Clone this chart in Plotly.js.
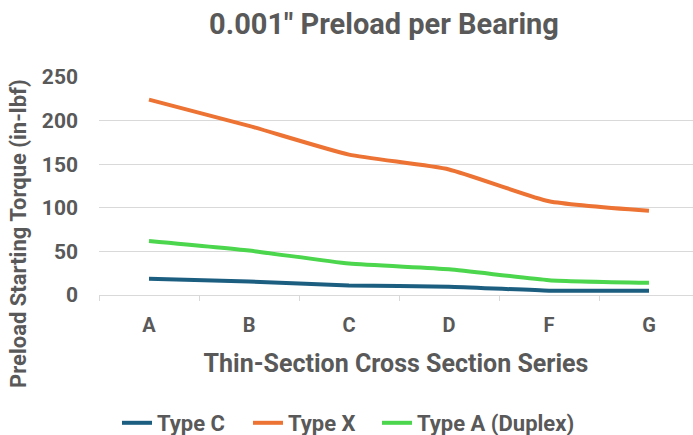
<!DOCTYPE html>
<html>
<head>
<meta charset="utf-8">
<script src="https://cdn.plot.ly/plotly-3.0.1.min.js"></script>
<style>html,body{margin:0;padding:0;background:#fff;}#chart{width:693px;height:435px;}</style>
</head>
<body>
<div id="chart"></div>
<script>
var categories = ["A", "B", "C", "D", "F", "G"];
var typeC = [18.5, 15.5, 11, 9.5, 5, 5];
var typeX = [224, 194, 161, 144, 107.5, 96.5];
var typeA = [62, 51, 36, 29.5, 17, 14];
var seriesNames = ["Type C", "Type X", "Type A (Duplex)"];
var yTicks = [0, 50, 100, 150, 200, 250];

var gray = "#595959";
var fontFam = "Roboto, 'DejaVu Sans', sans-serif";

function tr(name, y, color, leg) {
  return {x: categories, y: y, name: name, type: "scatter", mode: "lines", legend: leg,
          line: {color: color, width: 4, shape: "spline", smoothing: 0.5},
          hoverinfo: "skip"};
}
var data = [
  tr(seriesNames[0], typeC, "#1B5E80", "legend"),
  tr(seriesNames[1], typeX, "#EC7333", "legend2"),
  tr(seriesNames[2], typeA, "#4BD64E", "legend3")
];
function leg(px) {
  return {orientation: "h", xref: "container", yref: "container", x: px/693, y: 12/435,
          xanchor: "left", yanchor: "middle", bgcolor: "rgba(0,0,0,0)",
          font: {size: 22, color: gray, family: fontFam, weight: "bold"}};
}
var layout = {
  width: 693, height: 435,
  margin: {l: 99, r: 0, t: 77, b: 140},
  paper_bgcolor: "#fff", plot_bgcolor: "#fff",
  font: {family: fontFam, color: gray},
  title: {text: "<b>0.001\" Preload per Bearing</b>", font: {size: 29, color: gray, family: fontFam},
          x: 384/693, xref: "container", xanchor: "center", y: 1 - 24/435, yref: "container", yanchor: "middle"},
  xaxis: {type: "category", range: [-0.5, 5.44], tickson: "boundaries", ticks: "outside", ticklen: 5,
          tickcolor: "#d9d9d9", showline: true, linecolor: "#d9d9d9", linewidth: 1, showgrid: false,
          ticklabelstandoff: 12,
          tickfont: {size: 20, color: gray, family: fontFam, weight: "bold"},
          title: {text: "<b>Thin-Section Cross Section Series</b>", font: {size: 25, color: gray}, standoff: 18}},
  yaxis: {range: [0, 250], tickvals: yTicks, showgrid: true, gridcolor: "#d9d9d9", gridwidth: 1,
          zeroline: false, showline: false, ticks: "", ticklabelstandoff: 20,
          tickfont: {size: 21, color: gray, family: fontFam, weight: "bold"}},
  annotations: [{text: "<b>Preload Starting Torque (in-lbf)</b>", textangle: -90, showarrow: false,
                 xref: "paper", yref: "paper", x: (18 - 99) / 594, y: (435 - 140 - 234) / 218,
                 xanchor: "center", yanchor: "middle", font: {size: 22, color: gray, family: fontFam}}],
  showlegend: true,
  legend: leg(117), legend2: leg(248), legend3: leg(377)
};
Plotly.newPlot("chart", data, layout, {displayModeBar: false, staticPlot: true});
</script>
</body>
</html>
